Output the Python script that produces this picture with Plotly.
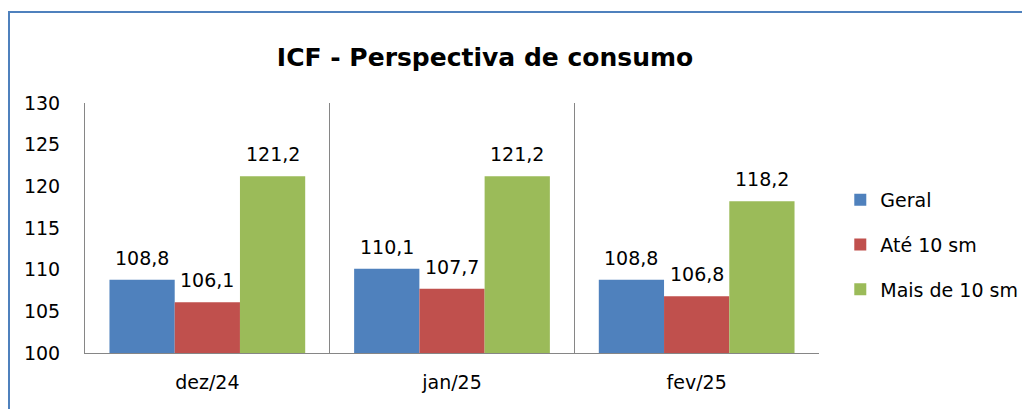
import plotly.graph_objects as go

categories = ["dez/24", "jan/25", "fev/25"]
series_names = ["Geral", "Até 10 sm", "Mais de 10 sm"]
geral = [108.8, 110.1, 108.8]
ate10 = [106.1, 107.7, 106.8]
mais10 = [121.2, 121.2, 118.2]
colors = ["#4F81BD", "#C0504D", "#9BBB59"]
y_ticks = [100, 105, 110, 115, 120, 125, 130]

FONT = "DejaVu Sans"
FS = 19
BARGAP = 0.2

def fmt(v):
    return f"{v:.1f}".replace(".", ",")

all_series = [geral, ate10, mais10]
n = len(all_series)
bar_w = (1 - BARGAP) / n

fig = go.Figure()
for i, (name, vals) in enumerate(zip(series_names, all_series)):
    fig.add_trace(go.Bar(
        x=categories, y=vals, name=name,
        marker=dict(color=colors[i], line=dict(width=0)),
        cliponaxis=False, legendgroup=name,
    ))
    # value labels anchored to each bar's top via the axis scales
    off = (i - (n - 1) / 2) * bar_w
    for j, v in enumerate(vals):
        fig.add_annotation(x=j + off, y=v, xref="x", yref="y", text=fmt(v),
                           showarrow=False, yanchor="bottom", xanchor="center", yshift=9,
                           font=dict(size=FS, color="black", family=FONT))

# page body has an 8px offset; margins compensate so the plot area sits at x 85-819, y 103-353
fig.update_layout(
    width=1030, height=409,
    barmode="group", bargap=BARGAP, bargroupgap=0,
    plot_bgcolor="white", paper_bgcolor="white",
    margin=dict(l=77, r=219, t=95, b=64),
    font=dict(family=FONT, size=FS, color="black"),
    title=dict(text="<b>ICF - Perspectiva de consumo</b>", x=477/1030, xanchor="center",
               y=1 - 49/409, yanchor="middle", font=dict(size=25, family=FONT, color="black")),
    legend=dict(x=1.029, y=0.432, xanchor="left", yanchor="middle",
                font=dict(size=FS, family=FONT), tracegroupgap=17,
                bgcolor="rgba(0,0,0,0)"),
    showlegend=True,
)
fig.update_xaxes(type="category", tickson="boundaries", showgrid=True, gridcolor="#868686",
                 gridwidth=1, showline=True, linecolor="#868686", linewidth=1,
                 ticks="", tickfont=dict(size=FS, family=FONT), ticklabelstandoff=12,
                 range=[-0.5, len(categories) - 0.5])
fig.update_yaxes(range=[100, 130], tickvals=y_ticks, showgrid=False, zeroline=False,
                 showline=True, linecolor="#868686", linewidth=1, ticks="",
                 tickfont=dict(size=FS, family=FONT), ticklabelstandoff=20)

# outer chart border
fig.add_shape(type="rect", xref="paper", yref="paper",
              x0=(9 - 85) / 734, x1=1.5, y0=-0.5, y1=(353 - 12) / 250,
              line=dict(color="#4F81BD", width=2), fillcolor="rgba(0,0,0,0)", layer="below")

fig.write_html("out.html")
